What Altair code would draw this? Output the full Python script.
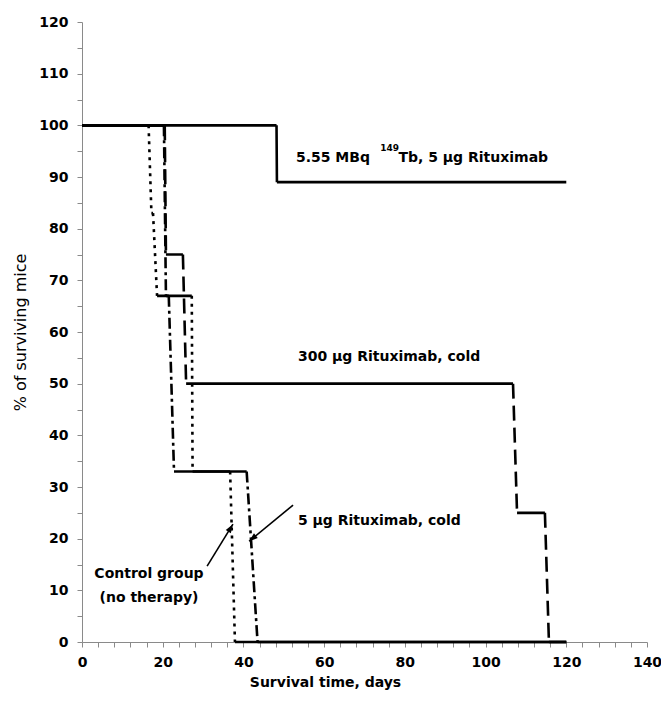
import math
import altair as alt
import pandas as pd

# ---------------- data ----------------
series_names = ["tb", "cold300", "cold5", "control"]

tb_days = [0, 48.2, 48.3, 120]
tb_pct = [100, 100, 89, 89]

cold300_days = [0, 20.5, 20.8, 25.0, 25.8, 106.8, 107.8, 114.7, 115.7, 120]
cold300_pct = [100, 100, 75, 75, 50, 50, 25, 25, 0, 0]

cold5_days = [0, 20.3, 20.8, 21.5, 22.8, 40.8, 43.5, 120]
cold5_pct = [100, 100, 67, 67, 33, 33, 0, 0]

control_days = [0, 16.5, 17.2, 17.6, 18.6, 27.2, 27.4, 36.7, 37.9, 120]
control_pct = [100, 100, 83, 83, 67, 67, 33, 33, 0, 0]

ann_text = ["5.55 MBq", "149", "Tb, 5 µg Rituximab", "300 µg Rituximab, cold", "5 µg Rituximab, cold"]
ann_day = [53.0, 73.9, 78.4, 53.5, 53.5]
ann_pct = [93.7, 95.6, 93.7, 55.2, 23.4]
ann_size = [14, 9, 14, 14, 14]

ctrl_text = ["Control group", "(no therapy)"]
ctrl_day = [16.6, 16.6]
ctrl_pct = [13.2, 8.5]

arrow_tail_day = [31.0, 52.3]
arrow_tail_pct = [14.7, 26.5]
arrow_head_day = [37.4, 41.4]
arrow_head_pct = [22.8, 19.5]

x_ticks = list(range(0, 141, 4))
y_ticks = list(range(0, 121, 5))

# ---------------- layout ----------------
W, H = 565, 620
X_MAX, Y_MAX = 140, 120
PX_X = W / X_MAX
PX_Y = H / Y_MAX

# ---------------- build segment table ----------------
all_series = {
    "tb": (tb_days, tb_pct),
    "cold300": (cold300_days, cold300_pct),
    "cold5": (cold5_days, cold5_pct),
    "control": (control_days, control_pct),
}
rows = []
for name in series_names:
    xs, ys = all_series[name]
    for i in range(len(xs) - 1):
        flat = ys[i] == ys[i + 1]
        style = "solid" if (flat or name == "tb") else name
        rows.append({"x": xs[i], "x2": xs[i + 1], "y": ys[i], "y2": ys[i + 1],
                     "style": style, "series": name})
seg = pd.DataFrame(rows)

ann = pd.DataFrame({"text": ann_text, "x": ann_day, "y": ann_pct, "fs": ann_size})
ctrl = pd.DataFrame({"text": ctrl_text, "x": ctrl_day, "y": ctrl_pct})

angles = []
for tx, ty, hx, hy in zip(arrow_tail_day, arrow_tail_pct, arrow_head_day, arrow_head_pct):
    dx = (hx - tx) * PX_X
    dy = -(hy - ty) * PX_Y
    angles.append(math.degrees(math.atan2(dx, -dy)) % 360)
arr = pd.DataFrame({"x": arrow_tail_day, "y": arrow_tail_pct,
                    "x2": arrow_head_day, "y2": arrow_head_pct, "ang": angles})

FONT = "DejaVu Sans"

xscale = alt.Scale(domain=[0, X_MAX], nice=False, zero=True)
yscale = alt.Scale(domain=[0, Y_MAX], nice=False, zero=True)

x_axis = alt.Axis(values=x_ticks, tickCount=500, format="d",
                  labelExpr="datum.value % 20 === 0 ? datum.label : ''",
                  title="Survival time, days", grid=False, titleX=243,
                  labelPadding=8, titlePadding=6, labelOverlap=False, labelFlush=False,
                  labelBound=False)
y_axis = alt.Axis(values=y_ticks, tickCount=500, format="d",
                  labelExpr="datum.value % 10 === 0 ? datum.label : ''",
                  title="% of surviving mice", grid=False, labelPadding=9,
                  titlePadding=10, titleFontWeight="normal", titleFontSize=16,
                  titleColor="black", labelOverlap=False, labelFlush=False, labelBound=False)

lines = alt.Chart(seg).mark_rule(strokeWidth=2.6, color="black").encode(
    x=alt.X("x:Q", scale=xscale, axis=x_axis),
    x2="x2:Q",
    y=alt.Y("y:Q", scale=yscale, axis=y_axis),
    y2="y2:Q",
    strokeDash=alt.StrokeDash("style:N", legend=None, scale=alt.Scale(
        domain=["solid", "cold300", "cold5", "control"],
        range=[[1, 0], [15, 7], [11, 4, 3, 4], [3, 5]])),
)

texts = alt.Chart(ann).mark_text(align="left", baseline="middle", font=FONT,
                                 fontWeight="bold", color="black").encode(
    x=alt.X("x:Q", scale=xscale), y=alt.Y("y:Q", scale=yscale), text="text:N",
    size=alt.Size("fs:Q", scale=None),
)

ctrl_texts = alt.Chart(ctrl).mark_text(align="center", baseline="middle", font=FONT,
                                       fontWeight="bold", fontSize=14, color="black").encode(
    x=alt.X("x:Q", scale=xscale), y=alt.Y("y:Q", scale=yscale), text="text:N",
)

arrow_lines = alt.Chart(arr).mark_rule(strokeWidth=1.6, color="black").encode(
    x=alt.X("x:Q", scale=xscale), x2="x2:Q", y=alt.Y("y:Q", scale=yscale), y2="y2:Q",
)

arrow_heads = alt.Chart(arr).mark_point(shape="M0,0L-0.75,2.2L0.75,2.2Z", filled=True,
                                        size=64, color="black", opacity=1).encode(
    x=alt.X("x2:Q", scale=xscale), y=alt.Y("y2:Q", scale=yscale),
    angle=alt.Angle("ang:Q", scale=None),
)

chart = alt.layer(lines, arrow_lines, arrow_heads, texts, ctrl_texts).properties(
    width=W, height=H,
    autosize=alt.AutoSizeParams(type="none"),
    padding={"left": 82, "top": 22, "right": 661 - 82 - W, "bottom": 702 - 22 - H},
    background="white",
).configure_view(stroke=None).configure_axis(
    domainColor="#8a8a8a", tickColor="#8a8a8a", domainWidth=1, tickWidth=1, tickSize=5,
    labelFont=FONT, labelFontWeight="bold", labelFontSize=14, labelColor="black",
    titleFont=FONT, titleFontWeight="bold", titleFontSize=14, titleColor="black",
)

chart.save("out.html", embed_options={"renderer": "svg", "actions": False})
